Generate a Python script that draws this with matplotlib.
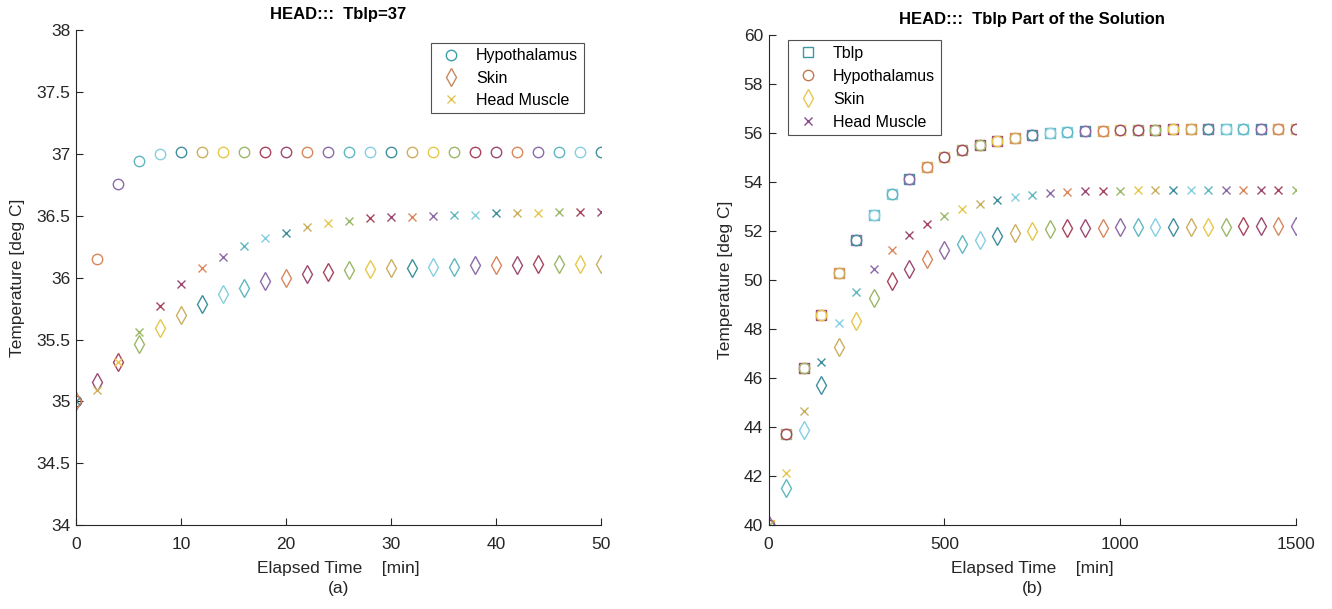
import numpy as np
import matplotlib
matplotlib.use("Agg")
import matplotlib.pyplot as plt
from matplotlib.lines import Line2D

plt.rcParams['font.family'] = ['Liberation Sans', 'DejaVu Sans']

# ---- panel (a) data : Tblp = 37
time_a = list(range(0, 51, 2))
hypo_a = [35.00, 36.15, 36.76, 36.94, 37.00, 37.02, 37.02, 37.02, 37.02, 37.02,
          37.02, 37.02, 37.02, 37.02, 37.02, 37.02, 37.02, 37.02, 37.02, 37.02,
          37.02, 37.02, 37.02, 37.02, 37.02, 37.02]
skin_a = [35.00, 35.16, 35.32, 35.46, 35.59, 35.70, 35.79, 35.87, 35.92, 35.97,
          36.00, 36.03, 36.05, 36.06, 36.07, 36.08, 36.08, 36.09, 36.09, 36.10,
          36.10, 36.10, 36.11, 36.11, 36.11, 36.11]
muscle_a = [35.00, 35.09, 35.32, 35.56, 35.77, 35.95, 36.08, 36.17, 36.26, 36.32,
            36.36, 36.41, 36.44, 36.46, 36.48, 36.49, 36.49, 36.50, 36.51, 36.51,
            36.52, 36.52, 36.52, 36.53, 36.53, 36.53]

# ---- panel (b) data : Tblp part of the solution
time_b = list(range(0, 1501, 50))
tblp_b = [40.00, 43.72, 46.43, 48.57, 50.28, 51.63, 52.68, 53.52, 54.12, 54.62,
          55.03, 55.31, 55.52, 55.69, 55.82, 55.93, 56.01, 56.06, 56.09, 56.11,
          56.13, 56.14, 56.15, 56.16, 56.16, 56.17, 56.17, 56.17, 56.17, 56.17, 56.17]
hypo_b = tblp_b
skin_b = [40.00, 41.50, 43.86, 45.72, 47.25, 48.35, 49.27, 49.95, 50.47, 50.88,
          51.22, 51.46, 51.66, 51.82, 51.94, 52.02, 52.07, 52.11, 52.13, 52.15,
          52.16, 52.17, 52.18, 52.18, 52.19, 52.19, 52.19, 52.20, 52.20, 52.20, 52.20]
muscle_b = [40.00, 42.12, 44.65, 46.67, 48.25, 49.51, 50.47, 51.22, 51.84, 52.28,
            52.63, 52.90, 53.12, 53.28, 53.40, 53.49, 53.55, 53.60, 53.63, 53.65,
            53.66, 53.67, 53.68, 53.68, 53.69, 53.69, 53.69, 53.70, 53.70, 53.70, 53.70]

palette = ['#9b4a72', '#e6c84a', '#86cfe0', '#d9875c', '#9bb868', '#3f8f9c',
           '#8c6aa8', '#a8445e', '#cbb060', '#5fb8c0']
axcol = '#262626'


def scatter_multi(ax, x, y, marker, size, offset, step=3):
    # MATLAB-ish: every point gets its own colour
    for i, (xi, yi) in enumerate(zip(x, y)):
        c = palette[(offset + i * step) % len(palette)]
        ax.plot(xi, yi, linestyle='none', marker=marker, markersize=size,
                markerfacecolor='none', markeredgecolor=c, markeredgewidth=1.0)


def style_axes(ax):
    for s in ['top', 'right']:
        ax.spines[s].set_visible(False)
    for s in ['left', 'bottom']:
        ax.spines[s].set_color(axcol)
        ax.spines[s].set_linewidth(0.8)
    ax.tick_params(direction='in', length=5, width=0.8, colors=axcol,
                   labelsize=12.5, pad=4)
    ax.tick_params(axis='x', pad=9)


fig = plt.figure(figsize=(13.32, 6.09), dpi=100)
ax1 = fig.add_axes([0.057, 0.138, 0.394, 0.812])
ax2 = fig.add_axes([0.577, 0.138, 0.396, 0.804])

# panel a
scatter_multi(ax1, time_a, hypo_a, 'o', 7.5, 0)
scatter_multi(ax1, time_a, skin_a, 'd', 9, 3, 7)
scatter_multi(ax1, time_a, muscle_a, 'x', 5.5, 5, 3)
ax1.set_xlim(0, 50)
ax1.set_ylim(34, 38)
ax1.set_xticks([0, 10, 20, 30, 40, 50])
ax1.set_yticks([34, 34.5, 35, 35.5, 36, 36.5, 37, 37.5, 38])
ax1.set_yticklabels(['34', '34.5', '35', '35.5', '36', '36.5', '37', '37.5', '38'])
style_axes(ax1)
ax1.set_title('HEAD:::  Tblp=37', fontsize=12, fontweight='bold', color='black', pad=8)
ax1.set_xlabel('Elapsed Time    [min]\n(a)', fontsize=12.5, color=axcol,
               linespacing=1.4, labelpad=6)
ax1.set_ylabel('Temperature [deg C]', fontsize=12.5, color=axcol, labelpad=8)
h1 = [Line2D([], [], ls='none', marker='o', ms=7.5, mfc='none', mec='#3aa0a8'),
      Line2D([], [], ls='none', marker='d', ms=9, mfc='none', mec='#c48a62'),
      Line2D([], [], ls='none', marker='x', ms=5.5, mec='#e2c456')]
leg1 = ax1.legend(h1, ['Hypothalamus', 'Skin', 'Head Muscle'], loc='upper right',
                  bbox_to_anchor=(0.968, 0.975), fontsize=11.5, frameon=True,
                  fancybox=False, edgecolor=axcol, handletextpad=0.7,
                  borderpad=0.35, labelspacing=0.45, handlelength=1.8,
                  borderaxespad=0)
leg1.get_frame().set_linewidth(0.8)

# panel b
scatter_multi(ax2, time_b, tblp_b, 's', 7, 1, 3)
scatter_multi(ax2, time_b, hypo_b, 'o', 7.5, 0, 7)
scatter_multi(ax2, time_b, skin_b, 'd', 9, 6, 3)
scatter_multi(ax2, time_b, muscle_b, 'x', 5.5, 4, 7)
ax2.set_xlim(0, 1500)
ax2.set_ylim(40, 60)
ax2.set_xticks([0, 500, 1000, 1500])
ax2.set_yticks(list(range(40, 61, 2)))
style_axes(ax2)
ax2.set_title('HEAD:::  Tblp Part of the Solution', fontsize=12, fontweight='bold',
              color='black', pad=8)
ax2.set_xlabel('Elapsed Time    [min]\n(b)', fontsize=12.5, color=axcol,
               linespacing=1.4, labelpad=6)
ax2.set_ylabel('Temperature [deg C]', fontsize=12.5, color=axcol, labelpad=8)
h2 = [Line2D([], [], ls='none', marker='s', ms=7, mfc='none', mec='#3a9aa0'),
      Line2D([], [], ls='none', marker='o', ms=7.5, mfc='none', mec='#c07a52'),
      Line2D([], [], ls='none', marker='d', ms=9, mfc='none', mec='#e8c850'),
      Line2D([], [], ls='none', marker='x', ms=5.5, mec='#8a4a8a')]
leg2 = ax2.legend(h2, ['Tblp', 'Hypothalamus', 'Skin', 'Head Muscle'], loc='upper left',
                  bbox_to_anchor=(0.036, 0.99), fontsize=11.5, frameon=True,
                  fancybox=False, edgecolor=axcol, handletextpad=0.7,
                  borderpad=0.35, labelspacing=0.5, handlelength=1.8,
                  borderaxespad=0)
leg2.get_frame().set_linewidth(0.8)

fig.savefig('out.png', dpi=100, facecolor='white')
